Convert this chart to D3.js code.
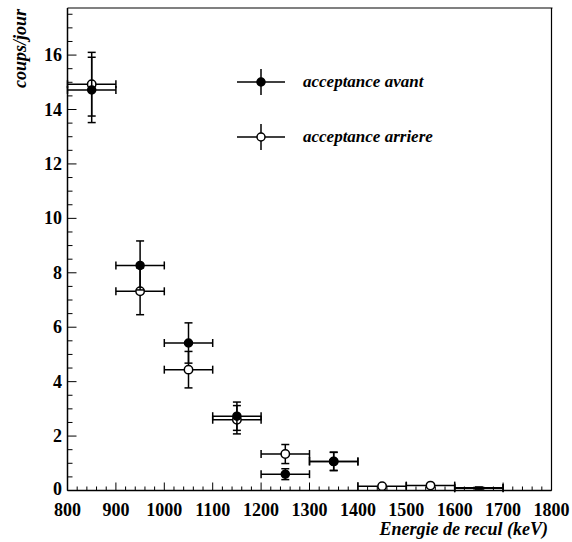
<!DOCTYPE html>
<html>
<head>
<meta charset="utf-8">
<script src="https://cdn.jsdelivr.net/npm/d3@7"></script>
<style>
  body { margin: 0; background: #fff; }
</style>
</head>
<body>
<svg id="chart-svg" width="572" height="542" font-family="'Liberation Serif', 'DejaVu Serif', 'Times New Roman', Times, serif" font-weight="bold"></svg>
<script>
// energy bins (keV): centre and half-width
const binCentres = [850, 950, 1050, 1150, 1250, 1350, 1450, 1550, 1650];
const binHalfWidth = 50;

// acceptance avant (filled markers)
const avantValues = [14.72, 8.27, 5.42, 2.73, 0.60, 1.07, null, null, 0.10];
const avantErrors = [1.20, 0.90, 0.74, 0.52, 0.20, 0.34, null, null, 0.03];

// acceptance arriere (open markers)
const arriereValues = [14.93, 7.32, 4.44, 2.60, 1.34, 1.07, 0.16, 0.18, 0.08];
const arriereErrors = [1.17, 0.86, 0.67, 0.52, 0.35, 0.33, 0.05, 0.05, 0.03];

// last bin is drawn without a visible marker
const markerShown = [true, true, true, true, true, true, true, true, false];

const xTicks = [800, 900, 1000, 1100, 1200, 1300, 1400, 1500, 1600, 1700, 1800];
const yTicks = [0, 2, 4, 6, 8, 10, 12, 14, 16];
const legendLabels = ["acceptance avant", "acceptance arriere"];

const svg = d3.select("#chart-svg");
const plotLeft = 67.5, plotRight = 551.5, plotTop = 8, plotBottom = 490.5;

const x = d3.scaleLinear().domain([800, 1800]).range([plotLeft, plotRight]);
const y = d3.scaleLinear().domain([0, 17.73]).range([plotBottom, plotTop]);

// frame: top grey, right black
svg.append("line").attr("x1", plotLeft).attr("x2", plotRight + 1).attr("y1", plotTop).attr("y2", plotTop)
    .attr("stroke", "#808080").attr("stroke-width", 2);
svg.append("line").attr("x1", plotRight).attr("x2", plotRight).attr("y1", plotTop).attr("y2", plotBottom)
    .attr("stroke", "#000").attr("stroke-width", 1.2);

// x axis (ticks inward)
const xMinor = d3.range(800, 1801, 20);
svg.append("g").selectAll("line").data(xMinor).join("line")
    .attr("x1", d => x(d)).attr("x2", d => x(d))
    .attr("y1", plotBottom)
    .attr("y2", d => plotBottom - (d % 100 === 0 ? 8 : 4))
    .attr("stroke", "#000").attr("stroke-width", 1);
svg.append("line").attr("x1", plotLeft).attr("x2", plotRight).attr("y1", plotBottom).attr("y2", plotBottom)
    .attr("stroke", "#000").attr("stroke-width", 1.5);
svg.append("g").selectAll("text").data(xTicks).join("text")
    .attr("x", d => x(d)).attr("y", 516)
    .attr("text-anchor", "middle")
    .attr("font-size", 18)
    .text(d => d);

// y axis
const yMinor = d3.range(0, 17.6, 0.5);
svg.append("g").selectAll("line").data(yMinor).join("line")
    .attr("x1", plotLeft)
    .attr("x2", d => plotLeft + (d % 2 === 0 ? 9 : 5))
    .attr("y1", d => y(d)).attr("y2", d => y(d))
    .attr("stroke", "#000").attr("stroke-width", 1);
svg.append("line").attr("x1", plotLeft).attr("x2", plotLeft).attr("y1", plotTop).attr("y2", plotBottom)
    .attr("stroke", "#000").attr("stroke-width", 1.5);
svg.append("g").selectAll("text").data(yTicks).join("text")
    .attr("x", 62).attr("y", d => d === 0 ? y(d) + 4.5 : y(d) + 6)
    .attr("text-anchor", "end")
    .attr("font-size", 18)
    .text(d => d);

// axis titles
svg.append("text")
    .attr("x", 548).attr("y", 535)
    .attr("text-anchor", "end")
    .attr("font-size", 18).attr("font-style", "italic")
    .text("Energie de recul (keV)");
svg.append("text")
    .attr("transform", "translate(26,9) rotate(-90)")
    .attr("text-anchor", "end")
    .attr("font-size", 18).attr("font-style", "italic")
    .text("coups/jour");

function makePoints(values, errors) {
    return binCentres.map((c, i) => ({ c: c, v: values[i], e: errors[i], show: markerShown[i] }))
        .filter(d => d.v !== null);
}

function drawSeries(points, filled) {
    const g = svg.append("g").attr("stroke", "#000").attr("stroke-width", 1.5);
    points.forEach(d => {
        const cx = x(d.c), cy = y(d.v);
        const x0 = x(d.c - binHalfWidth), x1 = x(d.c + binHalfWidth);
        const y0 = y(d.v - d.e), y1 = y(d.v + d.e);
        // horizontal bar with end caps
        g.append("line").attr("x1", x0).attr("x2", x1).attr("y1", cy).attr("y2", cy);
        g.append("line").attr("x1", x0).attr("x2", x0).attr("y1", cy - 4).attr("y2", cy + 4);
        g.append("line").attr("x1", x1).attr("x2", x1).attr("y1", cy - 4).attr("y2", cy + 4);
        // vertical bar with end caps
        g.append("line").attr("x1", cx).attr("x2", cx).attr("y1", y0).attr("y2", y1);
        g.append("line").attr("x1", cx - 4).attr("x2", cx + 4).attr("y1", y0).attr("y2", y0);
        g.append("line").attr("x1", cx - 4).attr("x2", cx + 4).attr("y1", y1).attr("y2", y1);
        if (d.show) {
            g.append("circle").attr("cx", cx).attr("cy", cy)
                .attr("r", filled ? 4 : 4.2)
                .attr("fill", filled ? "#000" : "#fff");
        }
    });
}

drawSeries(makePoints(arriereValues, arriereErrors), false);
drawSeries(makePoints(avantValues, avantErrors), true);

// legend
const legend = svg.append("g");
[{ yy: 82, filled: true }, { yy: 137, filled: false }].forEach((d, i) => {
    const g = legend.append("g").attr("stroke", "#000").attr("stroke-width", 1.5);
    g.append("line").attr("x1", 237).attr("x2", 285).attr("y1", d.yy).attr("y2", d.yy);
    g.append("line").attr("x1", 261).attr("x2", 261).attr("y1", d.yy - 13).attr("y2", d.yy + 13);
    g.append("circle").attr("cx", 261).attr("cy", d.yy).attr("r", 4)
        .attr("fill", d.filled ? "#000" : "#fff");
    legend.append("text")
        .attr("x", 303).attr("y", d.yy + 5)
        .attr("font-size", 17).attr("font-style", "italic")
        .text(legendLabels[i]);
});
</script>
</body>
</html>
